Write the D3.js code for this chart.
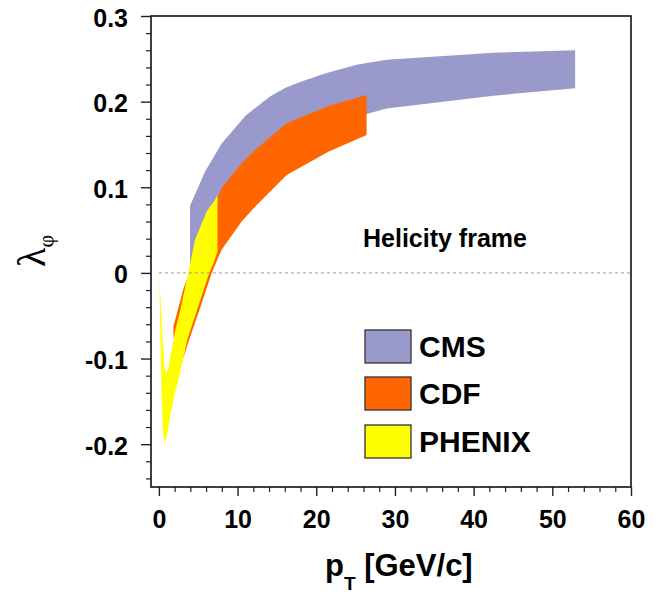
<!DOCTYPE html>
<html><head><meta charset="utf-8">
<script src="https://cdn.jsdelivr.net/npm/d3@7"></script>
<style>body{margin:0;background:#fff} svg{display:block}</style>
</head><body><svg id="c" width="667" height="595"></svg>
<script>
// ---- data ----
const cmsPt    = [3.96, 5.0, 5.86, 7.98, 11.07, 14.12, 16.03, 17.94, 21.11, 25.14, 26.4, 28.95, 42.5, 52.9];
const cmsLow   = [0.0, 0.02, 0.035, 0.065, 0.10, 0.13, 0.143, 0.153, 0.168, 0.181, 0.1855, 0.192, 0.207, 0.2155];
const cmsHigh  = [0.0785, 0.10, 0.118, 0.151, 0.184, 0.206, 0.216, 0.223, 0.233, 0.243, 0.245, 0.249, 0.257, 0.260];

const cdfPt    = [1.85, 2.3, 2.9, 3.1, 3.3, 3.61, 3.96, 5.01, 6.08, 6.71, 7.45, 7.98, 10.52, 12.22, 16.24, 21.54, 26.4];
const cdfLow   = [-0.074, -0.095, -0.104, -0.099, -0.094, -0.085, -0.075, -0.047, -0.018, 0.0, 0.016, 0.027, 0.060, 0.0774, 0.1144, 0.1416, 0.161];
const cdfHigh  = [-0.062, -0.047, -0.026, -0.019, -0.014, -0.007, 0.003, 0.038, 0.064, 0.075, 0.088, 0.0988, 0.128, 0.1435, 0.1747, 0.195, 0.2077];

const phxPt    = [0.05, 0.23, 0.36, 0.5, 0.7, 0.78, 1.0, 1.2, 1.41, 2.05, 2.69, 3.1, 3.61, 3.96, 4.4, 4.59, 5.01, 6.08, 6.41, 7.0, 7.45];
const phxLow   = [-0.005, -0.09, -0.148, -0.184, -0.197, -0.197, -0.19, -0.18, -0.168, -0.14, -0.117, -0.1, -0.078, -0.068, -0.056, -0.051, -0.039, -0.009, 0.0, 0.013, 0.025];
const phxHigh  = [-0.005, -0.035, -0.057, -0.08, -0.107, -0.114, -0.116, -0.111, -0.101, -0.068, -0.045, -0.027, -0.006, 0.01, 0.03, 0.0385, 0.048, 0.0716, 0.076, 0.083, 0.091];

const xMajorTicks = [0, 10, 20, 30, 40, 50, 60];
const xTickLabels = ["0", "10", "20", "30", "40", "50", "60"];
const yMajorTicks = [-0.2, -0.1, 0, 0.1, 0.2, 0.3];
const yTickLabels = ["-0.2", "-0.1", "0", "0.1", "0.2", "0.3"];
const legendLabels = ["CMS", "CDF", "PHENIX"];
const annotation = "Helicity frame";

// ---- layout / style ----
const W = 667, H = 595;
const L = 151, R = 631, T = 16, B = 487;
const colors = {CMS: "#9999cc", CDF: "#ff6600", PHENIX: "#ffff00"};
const font = "'Liberation Sans', Arial, Helvetica, sans-serif";

const svg = d3.select("#c");
const x = d3.scaleLinear().domain([-1, 60]).range([L, R]);
const y = d3.scaleLinear().domain([-0.25, 0.3]).range([B, T]);

const g = svg.append("g");

function band(pt, lo, hi, color) {
  const pts = pt.map((p, i) => ({p, lo: lo[i], hi: hi[i]}));
  const area = d3.area().x(d => x(d.p)).y0(d => y(d.lo)).y1(d => y(d.hi));
  g.append("path").datum(pts).attr("d", area).attr("fill", color).attr("stroke", "none");
}
band(cmsPt, cmsLow, cmsHigh, colors.CMS);
band(cdfPt, cdfLow, cdfHigh, colors.CDF);
band(phxPt, phxLow, phxHigh, colors.PHENIX);

// zero dashed line
g.append("line").attr("x1", x(0)).attr("x2", x(60)).attr("y1", y(0)).attr("y2", y(0))
  .attr("stroke", "#999").attr("stroke-width", 1).attr("stroke-dasharray", "3,3");

// minor ticks
const xMinor = d3.range(0, 61, 2).filter(v => v % 10 !== 0);
const yMinor = d3.range(-24, 31, 2).map(v => v / 100).filter(v => Math.abs(Math.round(v * 100) % 10) !== 0);

svg.append("g").attr("transform", `translate(0,${B})`)
  .call(d3.axisBottom(x).tickValues(xMinor).tickSize(5).tickFormat(""))
  .call(a => a.select(".domain").remove())
  .selectAll("line").attr("stroke", "#222").attr("stroke-width", 1.2);
svg.append("g").attr("transform", `translate(${L},0)`)
  .call(d3.axisLeft(y).tickValues(yMinor).tickSize(5).tickFormat(""))
  .call(a => a.select(".domain").remove())
  .selectAll("line").attr("stroke", "#222").attr("stroke-width", 1.2);

// major axes
const xa = svg.append("g").attr("transform", `translate(0,${B})`)
  .call(d3.axisBottom(x).tickValues(xMajorTicks).tickSize(9).tickPadding(14)
    .tickFormat((d, i) => xTickLabels[i]));
xa.select(".domain").remove();
xa.selectAll("line").attr("stroke", "#222").attr("stroke-width", 1.4);
xa.selectAll("text").attr("font-family", font).attr("font-weight", "bold")
  .attr("font-size", 25).attr("fill", "#000");

const ya = svg.append("g").attr("transform", `translate(${L},0)`)
  .call(d3.axisLeft(y).tickValues(yMajorTicks).tickSize(10).tickPadding(13)
    .tickFormat((d, i) => yTickLabels[i]));
ya.select(".domain").remove();
ya.selectAll("line").attr("stroke", "#222").attr("stroke-width", 1.4);
ya.selectAll("text").attr("font-family", font).attr("font-weight", "bold")
  .attr("font-size", 25).attr("fill", "#000").attr("dy", "0.4em");

// frame
svg.append("rect").attr("x", L).attr("y", T).attr("width", R - L).attr("height", B - T)
  .attr("fill", "none").attr("stroke", "#111").attr("stroke-width", 1.6);

// annotation
svg.append("text").attr("x", 363).attr("y", 247).text(annotation)
  .attr("font-family", font).attr("font-weight", "bold").attr("font-size", 25).attr("fill", "#000");

// legend
const legY = [330, 377, 425];
legendLabels.forEach((name, i) => {
  svg.append("rect").attr("x", 365).attr("y", legY[i]).attr("width", 46).attr("height", 33)
    .attr("fill", colors[name]).attr("stroke", "#333").attr("stroke-width", 1.3);
  svg.append("text").attr("x", 419).attr("y", legY[i] + 27).text(name)
    .attr("font-family", font).attr("font-weight", "bold").attr("font-size", 30).attr("fill", "#000");
});

// x title
const xt = svg.append("text").attr("x", 325).attr("y", 576)
  .attr("font-family", font).attr("font-weight", "bold").attr("font-size", 31).attr("fill", "#000");
xt.append("tspan").text("p");
xt.append("tspan").attr("font-size", 19).attr("dy", 14).text("T");
xt.append("tspan").attr("dy", -14).text(" [GeV/c]");

// y title
const yt = svg.append("text").attr("transform", "translate(45,267) rotate(-90)")
  .attr("font-family", "'Liberation Serif', 'DejaVu Serif', serif").attr("font-size", 40).attr("fill", "#000");
yt.append("tspan").text("λ");
yt.append("tspan").attr("font-size", 22).attr("dy", 8).text("φ");
</script>
</body></html>
